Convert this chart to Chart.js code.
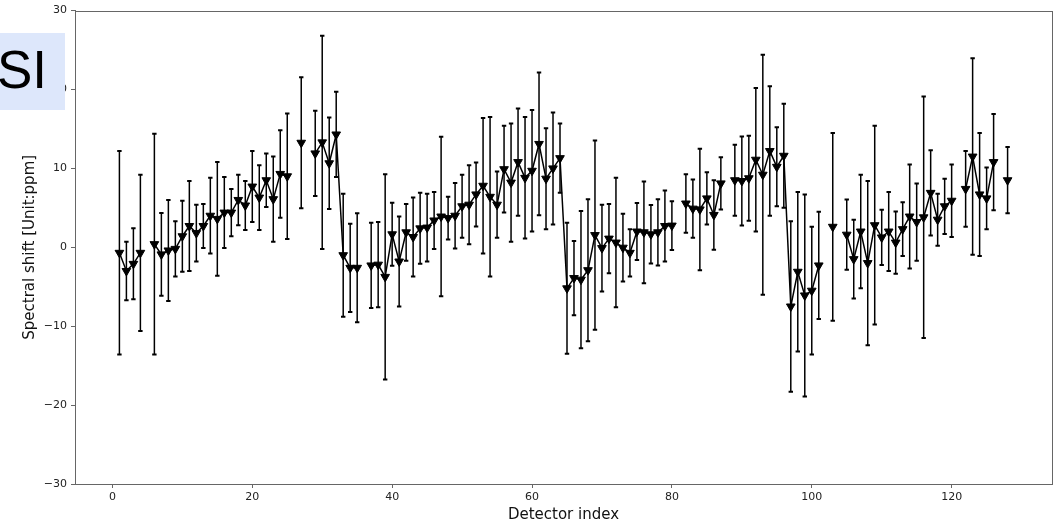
<!DOCTYPE html>
<html>
<head>
<meta charset="utf-8">
<script src="https://cdn.jsdelivr.net/npm/chart.js@4/dist/chart.umd.min.js"></script>
<style>
    html, body { margin: 0; padding: 0; background: #ffffff; }
    #wrap { position: relative; width: 1063px; height: 526px; }
    #badge {
        position: absolute; left: 0; top: 33px; width: 65px; height: 77px;
        background: #dde7fb; color: #000;
        font-family: 'Liberation Sans', Arial, sans-serif; font-size: 53px;
        line-height: 73px; text-indent: -3px; overflow: hidden;
    }
</style>
</head>
<body>
<div id="wrap">
    <canvas id="chartShift" width="1063" height="526"></canvas>
    <div id="badge">SI</div>
</div>
<script>
// detector index (x) and measured spectral shift with its error (ppm)
const detectorIndex = [
    1, 2, 3, 4, 5, 6, 7, 8, 9, 10, 11, 12, 13, 14, 15, 16,
    17, 18, 19, 20, 21, 22, 23, 24, 25, 26, 27, 28, 29, 30, 31, 32,
    33, 34, 35, 36, 37, 38, 39, 40, 41, 42, 43, 44, 45, 46, 47, 48,
    49, 50, 51, 52, 53, 54, 55, 56, 57, 58, 59, 60, 61, 62, 63, 64,
    65, 66, 67, 68, 69, 70, 71, 72, 73, 74, 75, 76, 77, 78, 79, 80,
    81, 82, 83, 84, 85, 86, 87, 88, 89, 90, 91, 92, 93, 94, 95, 96,
    97, 98, 99, 100, 101, 102, 103, 104, 105, 106, 107, 108, 109, 110, 111, 112,
    113, 114, 115, 116, 117, 118, 119, 120, 121, 122, 123, 124, 125, 126, 127, 128
];

const shiftValues = [
    -0.7, -3.0, -2.1, -0.7, null, 0.4, -0.9, -0.4, -0.2, 1.4, 2.7, 1.8, 2.7, 4.0, 3.6, 4.4,
    4.4, 6.0, 5.3, 7.7, 6.3, 8.5, 6.1, 9.3, 9.0, null, 13.25, null, 11.9, 13.3, 10.65, 14.3,
    -1.0, -2.6, -2.6, null, -2.3, -2.2, -3.75, 1.65, -1.8, 1.9, 1.3, 2.4, 2.5, 3.4, 3.9, 3.7,
    4.0, 5.2, 5.4, 6.7, 7.8, 6.4, 5.4, 9.9, 8.2, 10.8, 8.8, 9.7, 13.1, 8.7, 10.0, 11.3,
    -5.2, -3.9, -4.1, -2.9, 1.55, -0.1, 1.1, 0.6, -0.05, -0.7, 2.0, 1.9, 1.65, 1.9, 2.7, 2.75,
    null, 5.55, 4.9, 4.8, 6.2, 4.1, 8.1, null, 8.5, 8.4, 8.75, 11.1, 9.2, 12.2, 10.2, 11.6,
    -7.5, -3.1, -6.1, -5.5, -2.3, null, 2.6, null, 1.6, -1.5, 2.0, -2.0, 2.8, 1.25, 2.0, 0.6,
    2.3, 3.9, 3.2, 3.8, 6.9, 3.5, 5.2, 5.9, null, 7.4, 11.5, 6.7, 6.2, 10.8, null, 8.5
];

const shiftErrors = [
    12.9, 3.7, 4.5, 9.9, null, 14.0, 5.25, 6.4, 3.5, 4.5, 5.7, 3.6, 2.8, 4.8, 7.2, 4.5,
    3.0, 3.2, 3.1, 4.5, 4.1, 3.4, 5.4, 5.55, 7.95, null, 8.3, null, 5.4, 13.5, 5.8, 5.4,
    7.8, 5.6, 6.9, null, 5.4, 5.4, 13.0, 4.0, 5.7, 3.6, 5.0, 4.5, 4.3, 3.6, 10.1, 2.7,
    4.15, 4.0, 5.0, 4.05, 8.6, 10.1, 4.2, 5.5, 7.5, 6.8, 7.7, 7.7, 9.05, 6.4, 7.1, 4.4,
    8.3, 4.7, 8.7, 9.0, 12.0, 5.5, 4.4, 8.2, 4.3, 3.0, 3.6, 6.45, 3.7, 4.2, 4.5, 3.1,
    null, 3.7, 3.7, 7.7, 3.3, 4.4, 3.3, null, 4.5, 5.65, 5.4, 9.1, 15.2, 8.2, 5.0, 6.6,
    10.8, 10.1, 12.8, 8.1, 6.8, null, 11.9, null, 4.45, 5.0, 7.2, 10.4, 12.6, 3.5, 5.0, 3.95,
    3.4, 6.6, 4.9, 15.3, 5.4, 3.3, 3.5, 4.6, null, 4.8, 12.45, 7.8, 3.9, 6.1, null, 4.2
];

const xTickValues = [0, 20, 40, 60, 80, 100, 120];
const yTickValues = [-30, -20, -10, 0, 10, 20, 30];

document.addEventListener('DOMContentLoaded', function () {

    const ctx = document.getElementById('chartShift');
    const axisColor = '#666666';
    const tickFont = { family: 'DejaVu Sans', size: 11 };
    const titleFont = { family: 'DejaVu Sans', size: 15 };

    // error bars (drawn under the markers) and the box around the axes
    const errorBarPlugin = {
        id: 'errorBars',
        beforeDatasetsDraw: function (chart) {
            const c = chart.ctx;
            const xs = chart.scales.x;
            const ys = chart.scales.y;
            c.save();
            c.strokeStyle = '#000000';
            shiftValues.forEach(function (v, i) {
                if (v === null) return;
                const px = xs.getPixelForValue(detectorIndex[i]);
                const top = ys.getPixelForValue(v + shiftErrors[i]);
                const bot = ys.getPixelForValue(v - shiftErrors[i]);
                c.lineWidth = 1.5;
                c.beginPath();
                c.moveTo(px, top);
                c.lineTo(px, bot);
                c.stroke();
                c.lineWidth = 2;
                c.beginPath();
                c.moveTo(px - 2.2, top);
                c.lineTo(px + 2.2, top);
                c.moveTo(px - 2.2, bot);
                c.lineTo(px + 2.2, bot);
                c.stroke();
            });
            c.restore();
        },
        afterDraw: function (chart) {
            const a = chart.chartArea;
            const c = chart.ctx;
            c.save();
            c.strokeStyle = axisColor;
            c.lineWidth = 1;
            c.strokeRect(Math.round(a.left) + 0.5, Math.round(a.top) + 0.5,
                Math.round(a.right - a.left), Math.round(a.bottom - a.top));
            c.restore();
        }
    };

    new Chart(ctx, {
        type: 'line',
        data: {
            datasets: [{
                label: 'Spectral shift',
                data: detectorIndex.map(function (d, i) {
                    return { x: d, y: shiftValues[i] };
                }),
                borderColor: '#000000',
                backgroundColor: '#000000',
                borderWidth: 1.5,
                pointStyle: 'triangle',
                rotation: 180,
                pointRadius: 5,
                pointBackgroundColor: '#000000',
                pointBorderColor: '#000000',
                pointBorderWidth: 1,
                spanGaps: false,
                tension: 0
            }]
        },
        options: {
            responsive: false,
            animation: false,
            clip: false,
            layout: {
                padding: { left: 0, right: 11, top: 10, bottom: 0 }
            },
            plugins: {
                legend: { display: false },
                tooltip: { enabled: false }
            },
            scales: {
                x: {
                    type: 'linear',
                    min: -5.35,
                    max: 134.35,
                    afterBuildTicks: function (scale) {
                        scale.ticks = xTickValues.map(function (v) { return { value: v }; });
                    },
                    afterFit: function (scale) { scale.height = 42; },
                    grid: {
                        drawOnChartArea: false,
                        drawTicks: true,
                        tickLength: 4,
                        tickColor: axisColor
                    },
                    border: { display: true, color: axisColor },
                    ticks: {
                        color: '#222222',
                        font: tickFont,
                        padding: 3,
                        maxRotation: 0
                    },
                    title: {
                        display: true,
                        text: 'Detector index',
                        color: '#111111',
                        font: titleFont,
                        padding: { top: 0, bottom: 2 }
                    }
                },
                y: {
                    type: 'linear',
                    min: -30,
                    max: 30,
                    afterBuildTicks: function (scale) {
                        scale.ticks = yTickValues.map(function (v) { return { value: v }; });
                    },
                    afterFit: function (scale) { scale.width = 75; },
                    grid: {
                        drawOnChartArea: false,
                        drawTicks: true,
                        tickLength: 4,
                        tickColor: axisColor
                    },
                    border: { display: true, color: axisColor },
                    ticks: {
                        color: '#222222',
                        font: tickFont,
                        padding: 4,
                        callback: function (v) {
                            return String(v).replace('-', '\u2212');
                        }
                    },
                    title: {
                        display: true,
                        text: 'Spectral shift [Unit:ppm]',
                        color: '#111111',
                        font: titleFont,
                        padding: { top: 21, bottom: 0 }
                    }
                }
            }
        },
        plugins: [errorBarPlugin]
    });
});
</script>
</body>
</html>
